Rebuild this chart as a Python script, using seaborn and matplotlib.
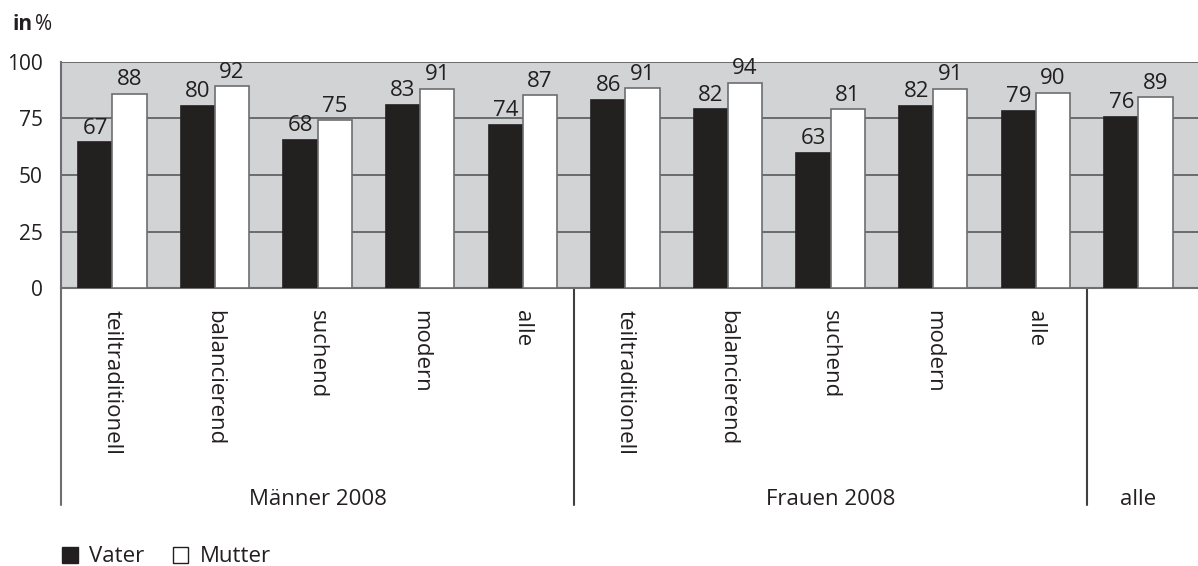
import pandas as pd
import matplotlib.pyplot as plt
import seaborn as sns
from matplotlib.patches import Patch
import matplotlib.transforms as mtransforms

# categories (x slots) and their labels
kategorien = ['teiltraditionell', 'balancierend', 'suchend', 'modern', 'alle',
              'teiltraditionell', 'balancierend', 'suchend', 'modern', 'alle', '']
gruppen = ['Männer 2008', 'Frauen 2008', 'alle']
gruppen_mitte = [2, 7, 10]
gruppen_grenzen = [-0.5, 4.5, 9.5]

# bar heights as drawn in the picture
vater_hoehe = [64.6, 80.6, 65.5, 81.0, 72.2, 83.2, 79.2, 59.8, 80.6, 78.4, 75.7]
mutter_hoehe = [86.0, 89.3, 74.3, 88.1, 85.3, 88.5, 90.9, 79.2, 88.1, 86.3, 84.4]
# printed value labels
vater_labels = [67, 80, 68, 83, 74, 86, 82, 63, 82, 79, 76]
mutter_labels = [88, 92, 75, 91, 87, 91, 94, 81, 91, 90, 89]

yticks = [0, 25, 50, 75, 100]

sns.set_style("white")
plt.rcParams['font.family'] = ['Open Sans', 'DejaVu Sans']

slots = list(range(len(kategorien)))
df = pd.DataFrame({
    'slot': slots * 2,
    'wert': vater_hoehe + mutter_hoehe,
    'person': ['Vater'] * len(slots) + ['Mutter'] * len(slots),
})

dark = '#231f20'
grey_bg = '#d1d3d4'
line_grey = '#6d6e71'

fig = plt.figure(figsize=(11.98, 5.66), dpi=100)
ax = fig.add_axes([61 / 1198, 1 - 288 / 566, 1 - 61 / 1198, 226 / 566])
ax.set_facecolor(grey_bg)

sns.barplot(data=df, x='slot', y='wert', hue='person', order=slots,
            hue_order=['Vater', 'Mutter'],
            palette={'Vater': dark, 'Mutter': 'white'},
            width=2 / 3, gap=0, legend=False, ax=ax, zorder=3)

for cont, ec, labs in zip(ax.containers, [dark, line_grey], [vater_labels, mutter_labels]):
    for bar in cont:
        bar.set_edgecolor(ec)
        bar.set_linewidth(1.2)
    ax.bar_label(cont, labels=[str(v) for v in labs], padding=2.5,
                 fontsize=16, color=dark)

ax.set_xlim(-0.5, 10.58)
ax.set_ylim(0, 100)
ax.set_yticks(yticks)
ax.yaxis.grid(True, color='#58595b', linewidth=1.2, zorder=0)
ax.set_axisbelow(True)
ax.tick_params(axis='y', labelsize=15, length=10, width=1.2, color=line_grey,
               pad=3, labelcolor=dark)

ax.set_xticks(slots)
ax.set_xticklabels(kategorien, rotation=-90, va='top', ha='center',
                   fontsize=16, color=dark)
ax.tick_params(axis='x', which='major', length=0, pad=16)
minor = [s + 0.5 for s in slots[:-1] if s + 0.5 not in gruppen_grenzen]
ax.set_xticks(minor, minor=True)
ax.tick_params(axis='x', which='minor', length=10, width=1.2, color=line_grey,
               direction='out')
ax.set_xlabel('')
ax.set_ylabel('')

for side in ['top', 'right']:
    ax.spines[side].set_visible(False)
ax.spines['left'].set_color(line_grey)
ax.spines['left'].set_linewidth(1.5)
ax.spines['bottom'].set_color(line_grey)
ax.spines['bottom'].set_linewidth(1.5)

trans = mtransforms.blended_transform_factory(ax.transData, ax.transAxes)
for g in gruppen_grenzen:
    col = line_grey if g == -0.5 else '#404041'
    ax.plot([g, g], [0, -0.96], transform=trans, color=col, lw=1.5,
            clip_on=False)
for name, mid in zip(gruppen, gruppen_mitte):
    ax.text(mid, -0.935, name, transform=trans, ha='center', va='center',
            fontsize=16, color=dark)

fig.text(12 / 1198, 1 - 25 / 566, 'in', fontsize=15, fontweight='bold',
         va='center', ha='left', color=dark)
fig.text(35 / 1198, 1 - 25 / 566, '%', fontsize=15, va='center', ha='left',
         color=dark)

handles = [Patch(facecolor=dark, edgecolor=dark, label='Vater'),
           Patch(facecolor='white', edgecolor=dark, label='Mutter')]
fig.legend(handles=handles, loc='center left', bbox_to_anchor=(42 / 1198, 1 - 557 / 566),
           ncol=2, frameon=False, fontsize=16, handlelength=0.7, handleheight=0.7,
           handletextpad=0.5, columnspacing=1.3, labelcolor=dark)

fig.savefig('out.png', dpi=100)
